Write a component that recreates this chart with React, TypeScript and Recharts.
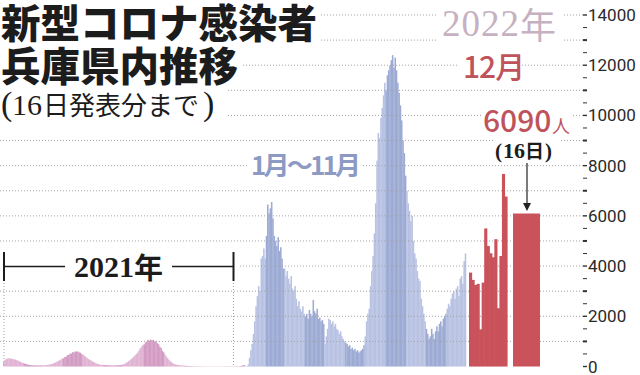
import { BarChart, Bar, XAxis, YAxis, Cell, ReferenceLine } from 'recharts';

// 2021年1月〜12月 (2日ごとの値, 月ごと)
const cases2021 = [
  [200, 260, 300, 320, 330, 315, 310, 300, 285, 270, 250, 230, 205, 180, 160, 140],
  [120, 100, 85, 70, 60, 55, 50, 45, 45, 40, 45, 40, 40, 45],
  [45, 50, 50, 60, 65, 75, 90, 100, 120, 140, 165, 190, 220, 250, 280, 310],
  [330, 380, 390, 450, 460, 510, 520, 570, 560, 600, 590, 600, 560, 550, 490],
  [470, 430, 390, 340, 300, 270, 240, 210, 180, 150, 125, 105, 90, 80, 70, 65],
  [60, 55, 55, 50, 45, 45, 40, 40, 40, 45, 45, 50, 55, 60, 70],
  [80, 110, 140, 170, 210, 250, 290, 340, 390, 440, 500, 560, 640, 720, 790, 850],
  [880, 960, 990, 1060, 1030, 1075, 1040, 1060, 1000, 1010, 930, 890, 790, 740, 620, 560],
  [470, 400, 330, 270, 210, 170, 130, 100, 80, 70, 60, 50, 45, 40, 35],
  [30, 28, 25, 22, 20, 18, 15, 14, 12, 12, 10, 10, 10, 10, 10, 10],
  [10, 10, 10, 10, 10, 10, 10, 10, 10, 10, 10, 10, 10, 10, 10],
  [10, 10, 10, 10, 10, 10, 10, 10, 10, 10, 12, 15, 20, 30, 45, 60],
];

// 2022年1月〜11月 (2日ごとの値, 月ごと)
const cases2022 = [
  [10, 20, 80, 350, 650, 900, 1300, 1800, 2400, 2800, 3200, 3000, 4300, 4400, 4700, 4300],
  [5200, 6450, 6100, 6300, 6550, 5900, 5200, 5000, 4800, 5150, 4600, 4750, 4300, 3900],
  [3900, 3600, 3800, 3500, 3300, 3600, 3100, 3000, 3200, 2700, 2400, 2600, 2300, 2200, 2400, 2100],
  [2000, 2100, 1900, 2250, 2100, 2000, 2650, 2200, 2100, 2300, 1900, 1950, 1800, 1850, 1700],
  [900, 1200, 1500, 1900, 1850, 1700, 1800, 1600, 1700, 1500, 1450, 1300, 1400, 1200, 1100, 1000],
  [950, 900, 800, 850, 700, 750, 650, 700, 600, 650, 550, 600, 650, 700, 850],
  [1200, 1800, 2100, 2300, 3200, 3800, 4400, 5300, 6500, 8200, 9300, 9100, 9900, 10300, 10800, 11300],
  [11000, 11600, 11800, 12000, 12200, 12400, 11900, 12300, 11800, 11300, 10900, 10400, 9800, 9000, 8500, 7600],
  [7000, 6500, 6200, 5800, 6000, 5000, 4500, 4300, 3800, 3500, 3400, 2700, 2400, 2100, 1800],
  [1500, 1300, 1100, 1200, 1500, 1300, 1100, 1400, 1600, 1400, 1700, 1800, 1600, 1900, 2000, 2100],
  [2300, 2500, 2400, 2700, 2900, 3000, 2700, 3100, 3200, 2800, 3500, 3600, 3300, 4200, 4500],
];

// 2022年12月1日〜15日
const decDays = ['1', '2', '3', '4', '5', '6', '7', '8', '9', '10', '11', '12', '13', '14', '15'];
const decCases = [3740, 3450, 3250, 3290, 1480, 3340, 5500, 4800, 4510, 4350, 5070, 2320, 4400, 7670, 6770];

// 12月16日発表分
const latestDay = '16';
const latestCases = 6090;

const yLabels = [0, 2000, 4000, 6000, 8000, 10000, 12000, 14000];
const yTickMarks = [
  0, 500, 1000, 1500, 2000, 2500, 3000, 3500, 4000, 4500, 5000, 5500, 6000, 6500, 7000,
  7500, 8000, 8500, 9000, 9500, 10000, 10500, 11000, 11500, 12000, 12500, 13000, 13500, 14000,
];
const gridValues = [1000, 2000, 3000, 4000, 5000, 6000, 7000, 8000, 9000, 10000, 11000, 12000, 13000, 14000];

const W = 640;
const H = 375;
const TOP = 15;
const BOTTOM = 8.5;
const Y_DOMAIN: [number, number] = [0, 14000];

const PINK = ['#e1b3d4', '#d39cc3'];
const BLUE = ['#b8c2e2', '#9dabd4'];
const RED = '#c9525b';
const TEXT_RED = '#bf535c';
const SANS = "'Noto Sans CJK JP', 'Noto Sans', sans-serif";
const SERIF = "'Liberation Serif', 'Noto Sans CJK JP', serif";

const dailyRows = [
  ...cases2021.flatMap((month, m) => month.map((v, i) => ({ key: `2021-${m + 1}-${i}`, value: v, year: 2021, month: m }))),
  ...cases2022.flatMap((month, m) => month.map((v, i) => ({ key: `2022-${m + 1}-${i}`, value: v, year: 2022, month: m }))),
];
const decRows = decDays.map((d, i) => ({ day: d, value: decCases[i] }));
const latestRows = [{ day: latestDay, value: latestCases }];

// plot spans (px) for each segment
const DAILY_LEFT = 3;
const DAILY_RIGHT = 466;
const DEC_LEFT = 469;
const DEC_RIGHT = 507;
const LATEST_LEFT = 513;
const LATEST_RIGHT = 540;

// just under the band width, so recharts keeps it (at >= band it shrinks bars to 90%)
const fit = (left: number, right: number, n: number) => ((right - left) / n) * 0.9995;

// bars touching each other: widen slightly so no anti-aliasing seams show
const seamless = (extra: number) => (p: any) => (
  <rect x={p.x} y={p.y} width={Math.max(0, p.width + extra)} height={Math.max(0, p.height)} fill={p.fill} />
);

const layer: React.CSSProperties = { position: 'absolute', left: 0, top: 0 };

function AxisTick({ x, y, payload }: any) {
  const v = payload.value;
  const labeled = yLabels.includes(v);
  const thousand = v % 1000 === 0;
  return (
    <g>
      <line x1={x} x2={x + 4} y1={y} y2={y} stroke="#333" strokeWidth={labeled ? 1.4 : thousand ? 2 : 1} />
      {labeled && (
        <text x={x + 5} y={y} dominantBaseline="central" fontSize={17} fontFamily="Roboto, sans-serif" fill="#2a2a2a">
          {v}
        </text>
      )}
    </g>
  );
}

export default function App() {
  return (
    <div style={{ position: 'absolute', left: 0, top: 0, width: W, height: H, background: '#fff', overflow: 'hidden' }}>
      {/* 2021年〜2022年11月 */}
      <div style={layer}>
        <BarChart width={W} height={H} data={dailyRows} barCategoryGap={0} margin={{ top: TOP, bottom: BOTTOM, left: DAILY_LEFT, right: W - DAILY_RIGHT }}>
          <XAxis dataKey="key" hide />
          <YAxis hide domain={Y_DOMAIN} />
          <Bar dataKey="value" isAnimationActive={false} barSize={fit(DAILY_LEFT, DAILY_RIGHT, dailyRows.length)} shape={seamless(0.25)}>
            {dailyRows.map((r) => (
              <Cell key={r.key} fill={r.year === 2021 ? PINK[r.month % 2] : BLUE[r.month % 2]} />
            ))}
          </Bar>
        </BarChart>
      </div>

      {/* grid + axis */}
      <div style={layer}>
        <BarChart width={W} height={H} data={[{ k: 'a', v: 0 }]} margin={{ top: TOP, bottom: BOTTOM, left: 0, right: 0 }}>
          <XAxis dataKey="k" hide />
          <YAxis
            orientation="right"
            width={57}
            domain={Y_DOMAIN}
            ticks={yTickMarks}
            interval={0}
            axisLine={false}
            tickLine={false}
            tickSize={0}
            tickMargin={0}
            tick={<AxisTick />}
          />
          {gridValues.map((g) => (
            <ReferenceLine key={g} y={g} stroke="#a3a3a3" strokeWidth={1} strokeDasharray="1 2" />
          ))}
          <Bar dataKey="v" fill="none" isAnimationActive={false} />
        </BarChart>
      </div>

      {/* 12月1日〜15日 */}
      <div style={layer}>
        <BarChart width={W} height={H} data={decRows} barCategoryGap={0} margin={{ top: TOP, bottom: BOTTOM, left: DEC_LEFT, right: W - DEC_RIGHT }}>
          <XAxis dataKey="day" hide />
          <YAxis hide domain={Y_DOMAIN} />
          <Bar dataKey="value" fill={RED} isAnimationActive={false} barSize={fit(DEC_LEFT, DEC_RIGHT, decRows.length)} shape={seamless(0.6)} />
        </BarChart>
      </div>

      {/* 12月16日 */}
      <div style={layer}>
        <BarChart width={W} height={H} data={latestRows} barCategoryGap={0} margin={{ top: TOP, bottom: BOTTOM, left: LATEST_LEFT, right: W - LATEST_RIGHT }}>
          <XAxis dataKey="day" hide />
          <YAxis hide domain={Y_DOMAIN} />
          <Bar dataKey="value" fill={RED} isAnimationActive={false} barSize={fit(LATEST_LEFT, LATEST_RIGHT, 1)} />
        </BarChart>
      </div>

      {/* labels */}
      <svg width={W} height={H} style={layer}>
        <rect x={0} y={0} width={321} height={44} fill="#fff" />
        <rect x={0} y={44} width={243} height={42} fill="#fff" />
        <rect x={0} y={86} width={228} height={36} fill="#fff" />
        <rect x={437} y={0} width={125} height={47} fill="#fff" />
        <rect x={459} y={50} width={62} height={32} fill="#fff" />
        <rect x={481} y={104} width={92} height={32} fill="#fff" />
        <rect x={493} y={138} width={66} height={24} fill="#fff" />
        <rect x={248} y={150} width={115} height={30} fill="#fff" />
        <rect x={0} y={252} width={240} height={30} fill="#fff" />

        <text x={1} y={38} fontSize={39.5} fontWeight={900} fontFamily={SANS} fill="#1c1c1c">新型コロナ感染者</text>
        <text x={1} y={81} fontSize={39.5} fontWeight={900} fontFamily={SANS} fill="#1c1c1c">兵庫県内推移</text>
        <text y={115} fill="#1c1c1c">
          <tspan x={1} fontSize={34} fontFamily={SERIF}>(</tspan>
          <tspan x={12} fontSize={30} fontFamily={SERIF}>16</tspan>
          <tspan x={43} fontSize={26} fontFamily={SANS}>日発表分まで</tspan>
          <tspan x={203} fontSize={34} fontFamily={SERIF}>)</tspan>
        </text>

        <text y={36} fill="#c6b1c1">
          <tspan x={442} fontSize={37} fontFamily={SERIF} letterSpacing={1}>2022</tspan>
          <tspan x={520} y={39} fontSize={36} fontFamily={SANS}>年</tspan>
        </text>
        <text x={463} y={78} fontSize={30} fontWeight={500} fontFamily={SANS} fill={TEXT_RED} letterSpacing={-1}>12月</text>
        <text y={132} fill={TEXT_RED} fontFamily={SANS}>
          <tspan x={483} fontSize={30} fontWeight={500}>6090</tspan>
          <tspan x={552} y={133} fontSize={18}>人</tspan>
        </text>
        <text y={158} fill="#1c1c1c" fontWeight={700}>
          <tspan x={495} fontSize={21} fontFamily={SERIF}>(</tspan>
          <tspan x={503} fontSize={22} fontFamily={SERIF}>16</tspan>
          <tspan x={525} fontSize={19} fontFamily={SANS}>日</tspan>
          <tspan x={545} fontSize={21} fontFamily={SERIF}>)</tspan>
        </text>
        <line x1={527} x2={527} y1={163} y2={206} stroke="#222" strokeWidth={1.2} />
        <polygon points="523,203 531,203 527,211" fill="#222" />

        <text x={251} y={175} fill="#8d9ac3" fontFamily={SANS} fontWeight={600} fontSize={26} letterSpacing={-2.8}>1月～11月</text>

        {/* 2021年 bracket */}
        <line x1={4} x2={4} y1={252} y2={281} stroke="#1c1c1c" strokeWidth={2} />
        <line x1={233.5} x2={233.5} y1={252} y2={281} stroke="#1c1c1c" strokeWidth={2} />
        <line x1={5} x2={65} y1={266.5} y2={266.5} stroke="#1c1c1c" strokeWidth={1.3} />
        <line x1={172} x2={233} y1={266.5} y2={266.5} stroke="#1c1c1c" strokeWidth={1.3} />
        <line x1={4} x2={4} y1={283} y2={366} stroke="#a3a3a3" strokeWidth={1} strokeDasharray="1 2" />
        <line x1={233.5} x2={233.5} y1={283} y2={366} stroke="#a3a3a3" strokeWidth={1} strokeDasharray="1 2" />
        <text y={277} fill="#1c1c1c" fontWeight={700}>
          <tspan x={74} fontSize={30} fontFamily={SERIF}>2021</tspan>
          <tspan x={134} y={279} fontSize={29} fontFamily={SANS}>年</tspan>
        </text>
      </svg>
    </div>
  );
}
